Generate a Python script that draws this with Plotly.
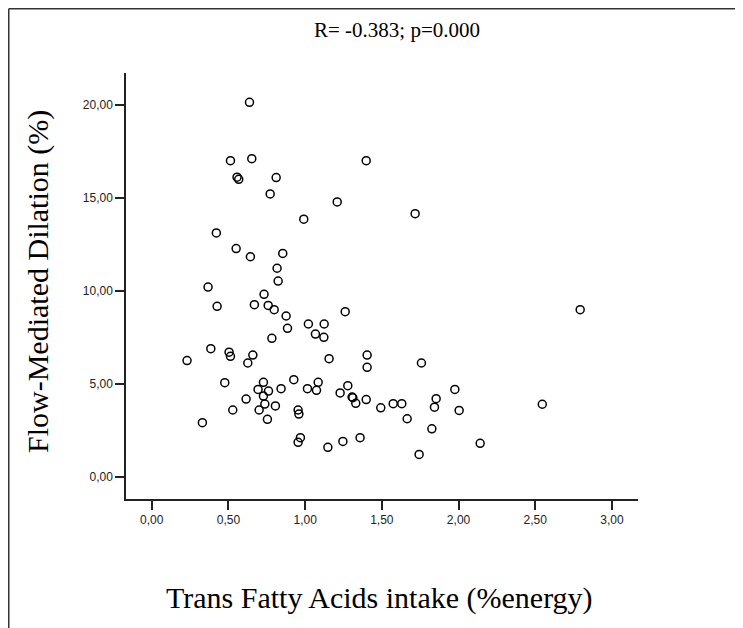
import plotly.graph_objects as go

# Trans fatty acids intake (%energy)
tfa = [0.637, 0.513, 0.652, 0.556, 0.567, 0.811, 0.772, 1.209, 1.398, 0.991,
       0.421, 0.550, 0.643, 0.854, 1.717,
       0.817, 0.824, 0.367, 0.732, 0.426, 0.669, 0.759, 0.798, 1.261, 0.876,
       0.885, 1.021, 1.124, 1.067, 1.122, 0.783, 0.385, 0.504, 0.513, 0.659,
       0.626, 0.230, 1.156, 1.404, 1.404, 0.476, 0.728, 0.926, 1.085, 0.693,
       0.761, 0.843, 1.015, 1.074, 0.728, 1.278, 1.228, 1.306, 1.311, 1.330,
       1.398, 0.615, 0.737, 0.806, 0.528, 0.700, 0.954, 0.959, 0.754, 0.330,
       0.969, 0.954, 1.148, 1.246, 1.358,
       2.793, 1.758, 1.976, 1.493, 1.574, 1.630, 1.854, 1.843, 2.004, 1.665,
       1.826, 2.546, 1.743, 2.141]

# Flow-mediated dilation (%)
fmd = [20.14, 17.00, 17.11, 16.11, 16.00, 16.09, 15.21, 14.78, 17.00, 13.85,
       13.11, 12.27, 11.83, 12.01, 14.15,
       11.21, 10.52, 10.20, 9.81, 9.16, 9.25, 9.21, 8.98, 8.87, 8.64,
       7.98, 8.21, 8.21, 7.67, 7.49, 7.44, 6.88, 6.69, 6.47, 6.54,
       6.11, 6.24, 6.34, 6.54, 5.88, 5.05, 5.07, 5.21, 5.07, 4.69,
       4.60, 4.73, 4.73, 4.64, 4.33, 4.89, 4.50, 4.28, 4.24, 3.94,
       4.14, 4.17, 3.90, 3.80, 3.58, 3.58, 3.58, 3.36, 3.08, 2.90,
       2.09, 1.84, 1.57, 1.89, 2.09,
       8.98, 6.11, 4.69, 3.70, 3.92, 3.92, 4.19, 3.73, 3.56, 3.11,
       2.57, 3.89, 1.19, 1.79]

x_tickvals = [0.0, 0.5, 1.0, 1.5, 2.0, 2.5, 3.0]
x_ticktext = ["0,00", "0,50", "1,00", "1,50", "2,00", "2,50", "3,00"]
y_tickvals = [0, 5, 10, 15, 20]
y_ticktext = ["0,00", "5,00", "10,00", "15,00", "20,00"]

title_text = "R= -0.383; p=0.000"
x_title = "Trans Fatty Acids intake (%energy)"
y_title = "Flow-Mediated Dilation (%)"

W, H = 743, 628
OFF = 8  # page body margin
L, T = 126 - OFF, 73 - OFF
pw, ph = 512, 426
R, B = W - L - pw, H - T - ph

def px2paper_x(px):
    return (px - OFF - L) / pw

def py2paper_y(py):
    return (T + ph - (py - OFF)) / ph

fig = go.Figure()
fig.add_trace(go.Scatter(
    x=tfa, y=fmd, mode="markers",
    marker=dict(symbol="circle-open", size=8, color="black",
                line=dict(width=1.5, color="black")),
    hoverinfo="x+y", showlegend=False,
))

serif = "Liberation Serif, Times New Roman, serif"
sans = "Liberation Sans, Arial, sans-serif"

fig.update_layout(
    width=W, height=H,
    margin=dict(l=L, r=R, t=T, b=B, pad=0),
    paper_bgcolor="white", plot_bgcolor="white",
    showlegend=False,
    xaxis=dict(range=[-0.168, 3.17], tickvals=x_tickvals, ticktext=x_ticktext,
               showline=True, linecolor="#222", linewidth=1.5,
               ticks="outside", ticklen=9, tickwidth=1.5, tickcolor="#222",
               showgrid=False, zeroline=False,
               tickfont=dict(family=sans, size=12, color="#222")),
    yaxis=dict(range=[-1.21, 21.72], tickvals=y_tickvals, ticktext=y_ticktext,
               showline=True, linecolor="#222", linewidth=1.5,
               ticks="outside", ticklen=9, tickwidth=1.5, tickcolor="#222",
               showgrid=False, zeroline=False,
               tickfont=dict(family=sans, size=12, color="#222")),
    annotations=[
        dict(text=title_text, xref="paper", yref="paper",
             x=px2paper_x(397), y=py2paper_y(30), xanchor="center", yanchor="middle",
             showarrow=False, font=dict(family=serif, size=21, color="black")),
        dict(text=x_title, xref="paper", yref="paper",
             x=px2paper_x(379), y=py2paper_y(598), xanchor="center", yanchor="middle",
             showarrow=False, font=dict(family=serif, size=30, color="black")),
        dict(text=y_title, xref="paper", yref="paper", textangle=-90,
             x=px2paper_x(38), y=py2paper_y(282), xanchor="center", yanchor="middle",
             showarrow=False, font=dict(family=serif, size=30, color="black")),
    ],
    shapes=[
        dict(type="line", xref="paper", yref="paper",
             x0=px2paper_x(OFF + 0.75), x1=px2paper_x(OFF + 0.75),
             y0=py2paper_y(OFF + 0.75), y1=py2paper_y(H + OFF + 2),
             line=dict(color="#333", width=1.5)),
        dict(type="line", xref="paper", yref="paper",
             x0=px2paper_x(OFF + 0.75), x1=px2paper_x(W + OFF + 2),
             y0=py2paper_y(OFF + 0.75), y1=py2paper_y(OFF + 0.75),
             line=dict(color="#333", width=1.5)),
    ],
)

fig.write_html("out.html")
